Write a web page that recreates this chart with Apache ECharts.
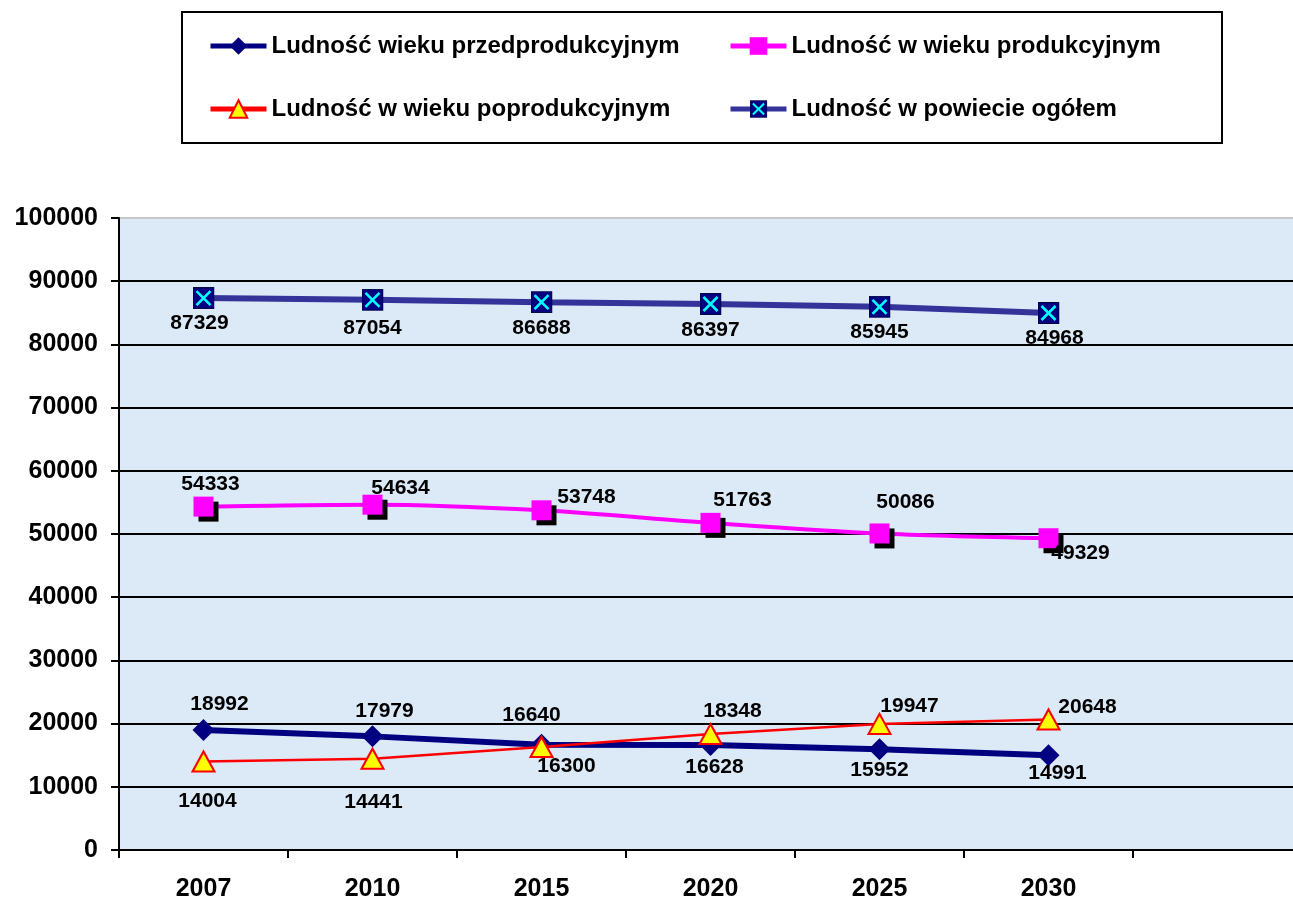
<!DOCTYPE html>
<html>
<head>
<meta charset="utf-8">
<script src="https://cdn.jsdelivr.net/npm/echarts@6/dist/echarts.min.js"></script>
<style>
  html, body { margin: 0; padding: 0; background: #fff; }
  #chart { width: 1293px; height: 901px; }
</style>
</head>
<body>
<div id="chart"></div>
<script>
// lata prognozy (ostatnia kategoria pusta, jak w oryginale)
const years = ['2007', '2010', '2015', '2020', '2025', '2030', '']
const przedprodukcyjny = [18992, 17979, 16640, 16628, 15952, 14991]
const produkcyjny = [54333, 54634, 53748, 51763, 50086, 49329]
const poprodukcyjny = [14004, 14441, 16300, 18348, 19947, 20648]
const ogolem = [87329, 87054, 86688, 86397, 85945, 84968]

const names = [
  'Ludność wieku przedprodukcyjnym',
  'Ludność w wieku produkcyjnym',
  'Ludność w wieku poprodukcyjnym',
  'Ludność w powiecie ogółem'
]

// przesunięcia etykiet względem punktów
const offPrzed = [[16, -26], [12, -25], [-10, -30], [4, 22], [0, 21], [9, 18]]
const offProd = [[7, -22], [28, -17], [45, -13], [32, -23], [26, -31], [32, 15]]
const offPoprod = [[4, 40], [1, 43], [25, 19], [22, -23], [30, -18], [39, -12]]
const offOgolem = [[-4, 25], [0, 28], [0, 26], [0, 26], [0, 25], [6, 25]]

const FONT = '"Liberation Sans", Arial, sans-serif'

const totalIcon = 'image://data:image/svg+xml;charset=utf-8,' + encodeURIComponent(
  "<svg xmlns='http://www.w3.org/2000/svg' width='22' height='22'>" +
  "<rect x='0.5' y='0.5' width='21' height='21' fill='#000080' stroke='#000040'/>" +
  "<path d='M4 4L18 18M18 4L4 18' stroke='#00FFFF' stroke-width='2.6'/></svg>")

const withLabels = (values, offsets) => values.map((v, i) => ({
  value: v,
  label: { offset: offsets[i] }
}))

const labelBase = {
  show: true,
  position: 'inside',
  color: '#000',
  fontFamily: FONT,
  fontWeight: 'bold',
  fontSize: 21
}

const chart = echarts.init(document.getElementById('chart'))

const legendBase = {
  orient: 'horizontal',
  padding: 0,
  itemWidth: 56,
  itemHeight: 22,
  itemGap: 0,
  lineStyle: { width: 5 },
  textStyle: { fontFamily: FONT, fontWeight: 'bold', fontSize: 24, color: '#000' },
  selectedMode: false
}

// linie siatki: czarne, górna krawędź szara
const gridColors = ['#000', '#000', '#000', '#000', '#000', '#000', '#000', '#000', '#000', '#000', '#c8c8c8']

const option = {
  animation: false,
  backgroundColor: '#fff',
  graphic: [{
    type: 'rect',
    z: -1,
    shape: { x: 182, y: 12, width: 1040, height: 131 },
    style: { fill: '#fff', stroke: '#000', lineWidth: 2 }
  }],
  legend: [
    Object.assign({}, legendBase, { data: [names[0]], left: 208, top: 34 }),
    Object.assign({}, legendBase, { data: [names[1]], left: 728, top: 34 }),
    Object.assign({}, legendBase, { data: [names[2]], left: 208, top: 97 }),
    Object.assign({}, legendBase, { data: [names[3]], left: 728, top: 97 })
  ],
  grid: {
    left: 119,
    top: 218,
    width: 1183,
    height: 632,
    outerBoundsMode: 'none',
    show: true,
    backgroundColor: '#dce9f7',
    borderWidth: 0
  },
  xAxis: {
    type: 'category',
    data: years,
    boundaryGap: true,
    axisLine: { lineStyle: { color: '#000', width: 2 } },
    axisTick: { show: true, length: 8, lineStyle: { color: '#000', width: 2 } },
    axisLabel: {
      color: '#000',
      fontFamily: FONT,
      fontWeight: 'bold',
      fontSize: 25,
      margin: 27
    },
    splitLine: { show: false }
  },
  yAxis: {
    type: 'value',
    min: 0,
    max: 100000,
    interval: 10000,
    axisLine: { show: true, lineStyle: { color: '#000', width: 2 } },
    axisTick: { show: true, length: 8, lineStyle: { color: '#000', width: 2 } },
    axisLabel: {
      color: '#000',
      fontFamily: FONT,
      fontWeight: 'bold',
      fontSize: 25,
      margin: 21,
      formatter: v => String(v)
    },
    splitLine: { show: true, lineStyle: { color: gridColors, width: 2 } }
  },
  series: [
    {
      name: names[0],
      type: 'line',
      data: withLabels(przedprodukcyjny, offPrzed),
      symbol: 'diamond',
      symbolSize: [22, 22],
      lineStyle: { color: '#000080', width: 6 },
      itemStyle: { color: '#000080' },
      label: labelBase,
      z: 3
    },
    {
      name: names[1],
      type: 'line',
      data: withLabels(produkcyjny, offProd),
      smooth: 0.3,
      symbol: 'rect',
      symbolSize: 20,
      lineStyle: { color: '#FF00FF', width: 4 },
      itemStyle: {
        color: '#FF00FF',
        shadowColor: '#000',
        shadowBlur: 0,
        shadowOffsetX: 5,
        shadowOffsetY: 5
      },
      label: labelBase,
      z: 2
    },
    {
      name: names[2],
      type: 'line',
      data: withLabels(poprodukcyjny, offPoprod),
      symbol: 'triangle',
      symbolSize: [22, 20],
      lineStyle: { color: '#FF0000', width: 2.5 },
      itemStyle: { color: '#FFFF00', borderColor: '#FF0000', borderWidth: 2 },
      label: labelBase,
      z: 4
    },
    {
      name: names[3],
      type: 'line',
      data: withLabels(ogolem, offOgolem),
      symbol: totalIcon,
      symbolSize: 22,
      lineStyle: { color: '#333399', width: 6 },
      itemStyle: { color: '#333399' },
      label: labelBase,
      z: 2
    }
  ]
}

chart.setOption(option)
</script>
</body>
</html>
